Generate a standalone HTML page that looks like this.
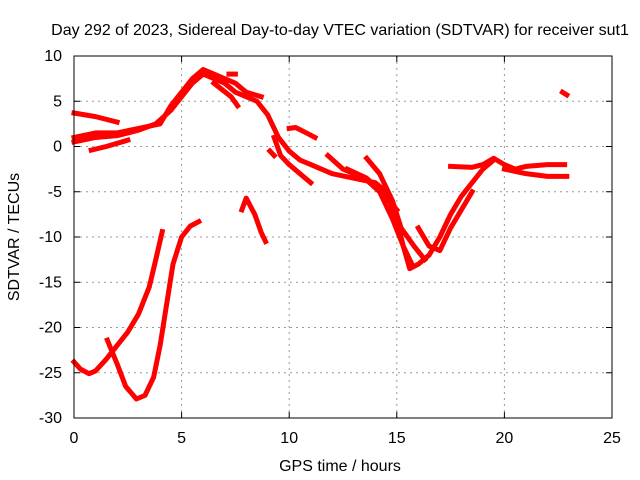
<!DOCTYPE html>
<html><head><meta charset="utf-8"><style>
body{margin:0;background:#fff}
svg{display:block;font-family:"Liberation Sans",sans-serif}
</style></head><body>
<svg id="chart" width="640" height="480">
<text x="340" y="35" font-size="16" text-anchor="middle">Day 292 of 2023, Sidereal Day-to-day VTEC variation (SDTVAR) for receiver sut1</text>
<text x="340" y="471" font-size="16" text-anchor="middle">GPS time / hours</text>
<text transform="translate(19,237) rotate(-90)" font-size="16" text-anchor="middle">SDTVAR / TECUs</text>
<g id="grid"></g><g id="series"></g>
<rect x="74" y="56" width="538" height="362" fill="none" stroke="#000" stroke-width="1"/>
</svg>
<script>
const xTicks=[0,5,10,15,20,25];
const yTicks=[-30,-25,-20,-15,-10,-5,0,5,10];
const s1=[[0,0.5],[1,1],[2,1.2],[3,1.8],[3.8,2.5],[4.5,4],[5,5.5],[5.5,7],[6,8],[6.5,7.5],[7,7],[7.5,6],[8,5.5],[8.5,5],[9,3.5],[9.5,1],[10,-0.5],[10.5,-1.5],[11,-2],[12,-3],[13,-3.5],[14,-4],[14.5,-5],[15,-8],[15.3,-11],[15.6,-13.5],[16,-13],[16.5,-12],[17,-10],[17.5,-7.5],[18,-5.5],[18.5,-4],[19,-2.5],[19.5,-1.5]];
const s2=[[0,1],[1,1.5],[2,1.5],[3,2],[4,2.5],[4.5,4.5],[5,6],[5.5,7.5],[6,8.5],[6.5,8],[7,7.5],[7.5,7],[8,6],[8.7,5.5]];
const s3=[[6.5,7],[7.3,5.5],[7.6,4.5]];
const s3b=[[7.2,8],[7.5,8]];
const s4=[[0,3.7],[1,3.3],[2,2.7]];
const s5=[[0.8,-0.4],[1.5,0],[2.5,0.7]];
const s6=[[9.3,1],[9.6,-1],[10,-2],[10.5,-3],[11,-4]];
const s7=[[10,2],[10.3,2.1],[10.8,1.5],[11.2,1]];
const s8=[[11.8,-1],[12.5,-2.5],[13.5,-3.5],[14.2,-5],[14.8,-8],[15.3,-11],[15.7,-13]];
const s9=[[13.6,-1.3],[14.2,-3],[14.8,-6],[15.2,-9],[15.8,-11],[16.3,-12.5]];
const s10=[[12.7,-2.5],[13.6,-3.5],[14.3,-5],[15,-7]];
const s11=[[16,-9],[16.5,-11],[17,-11.5],[17.5,-9],[18,-7],[18.5,-5]];
const s12=[[17.5,-2.2],[18.5,-2.3],[19,-2],[19.5,-1.3],[20,-2],[20.5,-2.5],[21,-2.2],[22,-2],[22.8,-2]];
const s13=[[20,-2.5],[21,-3],[22,-3.3],[22.9,-3.3]];
const s14=[[22.7,6],[22.9,5.7]];
const s15=[[7.8,-7],[8,-5.7],[8.4,-7.5],[8.7,-9.5],[8.9,-10.5]];
const s16=[[9.1,-0.5],[9.3,-1]];
const s17=[[0,-23.8],[0.3,-24.6],[0.7,-25.1],[1,-24.8],[1.5,-23.5],[2,-22],[2.5,-20.5],[3,-18.5],[3.5,-15.5],[3.8,-12.5],[4.1,-9.4]];
const s18=[[1.55,-21.4],[2,-24],[2.4,-26.5],[2.9,-27.9],[3.3,-27.5],[3.7,-25.5],[4,-22],[4.3,-17.5],[4.6,-13],[5,-10],[5.4,-8.8],[5.8,-8.3]];
const allSeries=[s1,s2,s3,s3b,s4,s5,s6,s7,s8,s9,s10,s11,s12,s13,s14,s15,s16,s17,s18];
const X=v=>74+v*(538/25), Y=v=>56+(10-v)*(362/40);
const NS='http://www.w3.org/2000/svg';
const grid=document.getElementById('grid'), ser=document.getElementById('series');
function mk(t,a,p){const e=document.createElementNS(NS,t);for(const k in a)e.setAttribute(k,a[k]);p.appendChild(e);return e;}
xTicks.forEach(t=>{
 if(t>0&&t<25){const l=mk('line',{x1:X(t),x2:X(t),y1:56,y2:418,stroke:'#999','stroke-dasharray':'2,4'},grid);
 
 }
 mk('line',{x1:X(t),x2:X(t),y1:418,y2:412,stroke:'#000'},grid);
 mk('line',{x1:X(t),x2:X(t),y1:56,y2:62,stroke:'#000'},grid);
 const tx=mk('text',{x:X(t),y:443,'font-size':16,'text-anchor':'middle'},grid);tx.textContent=t;
 
 
});
yTicks.forEach(t=>{
 if(t>-30&&t<10){const l=mk('line',{x1:74,x2:612,y1:Y(t),y2:Y(t),stroke:'#999','stroke-dasharray':'2,4'},grid);
 
 }
 mk('line',{x1:74,x2:80,y1:Y(t),y2:Y(t),stroke:'#000'},grid);
 mk('line',{x1:606,x2:612,y1:Y(t),y2:Y(t),stroke:'#000'},grid);
 const tx=mk('text',{x:62,y:Y(t)+5,'font-size':16,'text-anchor':'end'},grid);tx.textContent=t;
 
 
});
allSeries.forEach((s,i)=>{
 const p=mk('polyline',{points:s.map(d=>X(d[0])+','+Y(d[1])).join(' '),fill:'none',stroke:'#f00','stroke-width':5,'stroke-linejoin':'round','stroke-linecap':'square'},ser);
 
 
});
</script>
</body></html>
